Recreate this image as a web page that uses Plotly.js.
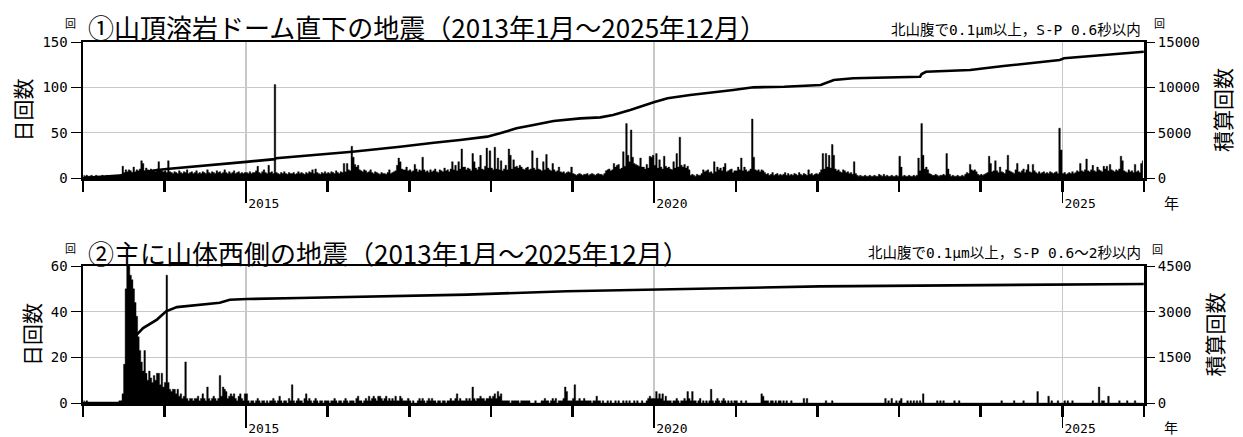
<!DOCTYPE html>
<html>
<head>
<meta charset="utf-8">
<script src="https://cdn.plot.ly/plotly-3.0.1.min.js"></script>
<style>
  html, body { margin: 0; padding: 0; background: #fff; }
  #chart { width: 1243px; height: 437px; }
</style>
</head>
<body>
<div id="chart"></div>
<script>
// ---- Panel 1: earthquakes directly beneath the summit lava dome ----
// Weekly peak of the daily count (52 weeks per year)
const dome2013 = [3,2,3,2,2,3,2,2,3,2,2,2,3,2,2,3,2,2,3,2,3,3,2,3,4,13,6,9,7,9,8,6,12,7,9,8,10,19,16,8,11,9,7,10,8,9,7,10,18,9,8,7];
const dome2014 = [8,6,19,7,6,5,7,6,5,8,6,5,7,6,9,5,6,7,5,6,8,5,6,5,7,6,5,9,6,5,7,6,5,8,6,7,5,6,9,6,5,7,5,6,8,5,6,7,5,6,5,6];
const dome2015 = [6,5,7,5,6,6,8,13,6,5,7,9,6,5,14,6,7,5,103,6,5,4,6,5,7,5,4,6,5,5,6,4,5,7,5,6,5,4,6,5,7,6,9,5,10,6,5,4,6,5,7,5];
const dome2016 = [6,5,7,6,5,8,6,5,7,6,16,7,16,9,8,35,23,15,12,14,9,8,7,9,8,6,7,9,6,5,7,6,5,4,6,5,5,4,6,9,5,6,7,8,14,22,18,10,9,9,12,8];
const dome2017 = [9,7,8,15,10,7,9,8,23,9,7,8,6,9,7,8,10,7,6,9,8,7,11,8,9,7,10,18,9,14,8,18,10,32,12,12,9,11,10,8,27,18,11,9,12,25,10,9,13,33,11,30];
const dome2018 = [11,9,34,10,22,9,19,8,10,14,9,32,25,10,20,12,13,11,14,12,10,9,11,12,9,10,30,11,9,22,10,9,8,18,9,26,11,9,8,16,9,7,8,12,7,6,7,5,6,7,6,12];
const dome2019 = [5,4,3,4,5,4,3,4,4,5,3,4,5,4,3,4,5,4,4,3,5,8,9,10,8,9,16,12,14,15,10,11,29,13,60,25,18,53,23,16,15,14,13,22,12,12,10,15,11,24,23,25];
const dome2020 = [14,27,11,20,12,10,24,13,11,12,10,9,18,11,27,12,45,14,12,15,11,13,9,3,4,3,2,4,3,3,5,9,7,8,9,6,7,5,18,7,12,9,11,8,12,16,7,8,9,10,6,8];
const dome2021 = [8,12,9,22,8,12,9,7,8,10,65,23,9,8,9,7,9,8,6,4,5,3,4,6,3,4,5,3,4,3,4,6,3,5,3,4,3,5,4,3,6,4,3,5,4,3,9,4,5,3,4,5];
const dome2022 = [4,6,9,27,10,27,12,25,11,37,25,10,8,9,7,6,9,8,6,7,5,6,4,18,5,3,2,3,2,2,3,2,2,3,2,2,3,2,2,4,3,2,4,2,3,2,2,3,2,2,3,2];
const dome2023 = [24,12,2,3,2,2,3,2,2,3,2,3,22,8,60,25,10,12,9,5,4,3,3,4,3,2,3,3,4,3,27,10,4,2,3,2,2,3,2,2,3,2,4,6,5,15,9,8,9,7,4,3];
const dome2024 = [4,3,4,5,6,24,16,7,8,19,8,6,12,7,6,5,9,25,8,7,6,5,9,16,7,6,8,10,6,9,15,7,6,15,8,6,5,7,5,6,7,5,6,5,7,6,5,6,7,5,55,31];
const dome2025 = [5,6,4,5,6,5,7,5,6,8,7,16,8,7,9,21,8,7,9,14,8,7,12,9,8,7,13,10,13,8,15,9,8,7,9,8,10,24,19,8,7,6,9,7,8,6,15,7,8,6,16,19];

// Cumulative count (right axis)
const domeCumDates = ['2013-01-01','2013-07-01','2013-12-01','2014-01-10','2015-01-01','2015-05-10','2015-05-15','2016-01-25','2016-04-20','2016-11-20','2017-02-15','2017-04-20','2017-08-15','2017-12-15','2018-02-10','2018-04-25','2018-07-10','2018-10-08','2019-02-05','2019-05-05','2019-07-01','2019-09-16','2019-12-30','2020-03-01','2020-06-10','2020-08-25','2020-12-20','2021-03-20','2021-08-05','2022-01-15','2022-03-15','2022-06-10','2023-04-05','2023-04-12','2023-05-01','2023-11-15','2024-04-12','2024-12-20','2025-01-08','2025-12-31'];
const domeCumValues = [0,300,880,990,1780,2080,2190,2700,2900,3450,3750,3890,4190,4560,4930,5480,5850,6290,6580,6690,6950,7500,8350,8790,9150,9340,9710,10000,10070,10260,10810,11000,11170,11470,11720,11910,12350,13010,13200,13930];

// ---- Panel 2: earthquakes mainly on the west side of the volcano ----
const west2013 = [1,0,1,0,0,0,0,0,0,0,0,0,0,0,0,0,0,0,0,0,0,0,0,1,1,4,17,50,60,60,56,54,50,44,38,29,23,18,14,23,13,10,14,11,9,12,10,13,13,8,13,7];
const west2014 = [9,56,9,6,5,6,6,4,6,3,4,2,3,18,2,1,2,2,1,2,2,3,1,2,4,2,1,7,2,1,2,3,2,1,2,12,3,7,6,5,2,3,4,3,4,2,1,3,4,2,1,4];
const west2015 = [4,1,0,1,1,0,1,2,1,0,1,1,0,1,0,1,1,2,1,0,1,3,1,0,1,1,0,2,1,8,1,0,1,2,1,1,0,2,4,1,2,1,0,1,2,1,0,1,1,0,1,1];
const west2016 = [1,0,1,1,2,1,0,1,1,0,1,2,1,0,1,1,1,0,2,3,1,1,0,1,2,1,3,1,2,3,2,1,3,3,2,1,2,3,1,2,1,2,1,3,1,1,3,2,1,1,1,2];
const west2017 = [1,0,1,0,0,1,2,1,2,1,0,1,2,1,2,1,1,0,1,1,0,1,1,0,1,1,2,1,1,2,4,1,2,1,1,1,2,1,2,1,7,2,1,2,2,3,2,2,1,2,2,3];
const west2018 = [2,3,4,2,5,3,4,1,1,1,1,1,0,1,1,1,1,1,0,1,1,1,1,1,1,0,0,0,1,0,0,0,1,1,2,1,1,0,1,2,1,2,0,1,1,1,2,7,5,1,1,1];
const west2019 = [2,8,1,1,2,1,1,2,1,1,1,1,0,1,1,3,1,1,0,1,0,0,1,0,1,0,0,1,0,1,0,0,1,0,1,0,1,0,0,1,0,1,0,0,1,0,0,1,2,3,2,2];
const west2020 = [2,5,2,4,2,4,1,3,1,1,1,0,1,1,2,1,0,1,1,2,1,5,2,1,5,1,1,0,1,2,0,1,0,1,0,1,6,1,0,1,2,1,0,1,2,1,0,1,0,1,0,1];
const west2021 = [1,0,0,1,0,0,1,0,0,0,0,0,0,0,0,0,4,3,1,1,1,0,1,1,0,1,0,1,1,0,1,0,1,0,0,1,0,0,0,0,0,0,0,2,0,2,0,0,0,0,0,0];
const west2022 = [0,0,0,0,0,1,0,0,0,1,0,0,0,0,0,0,0,0,0,0,0,0,0,0,0,0,0,0,0,0,0,0,0,0,0,0,0,0,0,0,0,0,0,2,0,1,0,2,0,0,1,0];
const west2023 = [1,2,0,0,0,1,0,1,0,1,0,1,0,1,0,4,0,0,0,0,0,0,0,0,1,0,1,0,1,0,0,0,0,0,0,1,0,0,1,0,0,0,0,0,0,0,0,0,0,0,0,0];
const west2024 = [0,0,0,0,0,0,0,0,0,0,0,0,0,1,0,0,0,0,0,0,0,1,0,0,0,0,0,1,0,0,0,0,0,0,0,0,5,0,0,0,0,0,0,3,0,1,0,0,0,1,0,0];
const west2025 = [0,1,0,1,0,0,1,0,0,0,0,0,0,0,0,0,0,0,0,1,0,0,0,7,0,1,1,0,0,3,0,0,0,0,0,0,1,0,0,0,0,1,0,0,0,0,1,0,0,0,0,0];

const westCumDates = ['2013-01-01','2013-06-20','2013-07-01','2013-07-15','2013-07-30','2013-08-14','2013-08-29','2013-09-27','2013-11-28','2014-01-08','2014-02-25','2014-06-10','2014-09-05','2014-10-20','2015-01-05','2015-08-25','2016-11-20','2017-09-15','2018-12-05','2020-01-01','2022-01-10','2025-12-31'];
const westCumValues = [0,10,60,400,1000,1700,2240,2460,2740,3010,3150,3230,3290,3390,3415,3450,3505,3560,3670,3720,3830,3910];

// Axis ticks
const years = [2013,2014,2015,2016,2017,2018,2019,2020,2021,2022,2023,2024,2025];
const labelDates = ['2015-01-01','2020-01-01','2025-01-01'];
const labelTexts = ['2015','2020','2025'];
const domeDailyTicks = [0,50,100,150];
const domeCumTicks = [0,5000,10000,15000];
const westDailyTicks = [0,20,40,60];
const westCumTicks = [0,1500,3000,4500];

// Text
const domeTitle = '①山頂溶岩ドーム直下の地震（2013年1月～2025年12月）';
const domeNote = '北山腹で0.1μm以上，S-P 0.6秒以内';
const westTitle = '②主に山体西側の地震（2013年1月～2025年12月）';
const westNote = '北山腹で0.1μm以上，S-P 0.6～2秒以内';

// ---- build weekly series (one value per week, centred mid-week) ----
function weekDates(year) {
  const out = [];
  for (let i = 0; i < 52; i++) {
    out.push(new Date(Date.UTC(year, 0, 4 + 7 * i)).toISOString().slice(0, 10));
  }
  return out;
}
function flatten(yearArrays) {
  const xs = [], ys = [];
  yearArrays.forEach((vals, k) => {
    const d = weekDates(years[k]);
    vals.forEach((v, i) => { xs.push(d[i]); ys.push(v); });
  });
  return { xs, ys };
}
const dome = flatten([dome2013,dome2014,dome2015,dome2016,dome2017,dome2018,dome2019,dome2020,dome2021,dome2022,dome2023,dome2024,dome2025]);
const west = flatten([west2013,west2014,west2015,west2016,west2017,west2018,west2019,west2020,west2021,west2022,west2023,west2024,west2025]);

const GRID = '#c8c8c8';
const NUM_FONT = 'DejaVu Sans Mono, Noto Sans CJK JP';
const JP_FONT = 'Noto Sans CJK JP';

// counts are drawn as a filled step outline so neighbouring weeks join into one solid mass
function countTrace(s, xa, ya) {
  return { type: 'scatter', mode: 'lines', x: s.xs, y: s.ys, xaxis: xa, yaxis: ya,
    line: { shape: 'hvh', color: '#000', width: 0.4 }, fill: 'tozeroy', fillcolor: '#000',
    hoverinfo: 'x+y' };
}
function cumTrace(xs, ys, xa, ya) {
  return { type: 'scatter', mode: 'lines', x: xs, y: ys, xaxis: xa, yaxis: ya,
    line: { color: '#000', width: 2.6 } };
}
const traces = [
  countTrace(dome, 'x', 'y'),
  cumTrace(domeCumDates, domeCumValues, 'x', 'y2'),
  countTrace(west, 'x2', 'y3'),
  cumTrace(westCumDates, westCumValues, 'x2', 'y4')
];

function timeAxis(anchor) {
  return {
    type: 'date', anchor: anchor, domain: [0, 1],
    range: ['2013-01-01', '2026-01-01'],
    tickmode: 'array', tickvals: labelDates, ticktext: labelTexts,
    ticks: 'outside', ticklen: 22, tickwidth: 1.5, tickcolor: '#000',
    ticklabelposition: 'outside right', ticklabelstandoff: 12,
    tickfont: { family: NUM_FONT, size: 13, color: '#000' },
    minor: { dtick: 'M12', tick0: '2013-01-01', ticks: 'outside', ticklen: 11, tickwidth: 2.5, tickcolor: '#000', showgrid: false },
    showgrid: true, gridcolor: GRID, gridwidth: 1.5,
    showline: true, linewidth: 2.5, linecolor: '#000', mirror: true,
    zeroline: false, fixedrange: true
  };
}
function countAxis(anchor, domain, range, vals, title) {
  return {
    anchor: anchor, domain: domain, range: range,
    tickmode: 'array', tickvals: vals, ticktext: vals.map(String),
    ticks: 'outside', ticklen: 10, tickwidth: 1, tickcolor: '#000',
    tickfont: { family: NUM_FONT, size: 14, color: '#000' },
    showgrid: true, gridcolor: GRID, gridwidth: 1.5,
    showline: true, linewidth: 2.5, linecolor: '#000', mirror: true,
    zeroline: false, fixedrange: true,
    title: { text: title, font: { family: JP_FONT, size: 21, color: '#000' }, standoff: 5 }
  };
}
function cumAxis(overlay, range, vals, title) {
  return {
    overlaying: overlay, side: 'right', range: range,
    tickmode: 'array', tickvals: vals, ticktext: vals.map(String),
    ticks: 'outside', ticklen: 10, tickwidth: 1, tickcolor: '#000',
    tickfont: { family: NUM_FONT, size: 14, color: '#000' },
    showgrid: false, zeroline: false, showline: false, fixedrange: true,
    title: { text: title, font: { family: JP_FONT, size: 21, color: '#000' }, standoff: 17 }
  };
}

const W = 1243, H = 437, ML = 83, MR = 99;
const PW = W - ML - MR;
const px = v => (v - ML) / PW;      // horizontal pixel -> paper fraction
const py = v => 1 - v / H;          // vertical pixel -> paper fraction

function note(text, xPix, yPix, size, anchor, family) {
  return { text: text, xref: 'paper', yref: 'paper', x: px(xPix), y: py(yPix),
    xanchor: anchor, yanchor: 'middle', showarrow: false,
    font: { family: family, size: size, color: '#000' } };
}

const layout = {
  width: W, height: H,
  margin: { l: ML, r: MR, t: 0, b: 0 },
  paper_bgcolor: '#fff', plot_bgcolor: '#fff',
  showlegend: false,
  font: { family: JP_FONT, color: '#000' },
  xaxis: timeAxis('y'),
  yaxis: countAxis('x', [py(178), py(42)], [0, 150], domeDailyTicks, '日回数'),
  yaxis2: cumAxis('y', [0, 15000], domeCumTicks, '積算回数'),
  xaxis2: timeAxis('y3'),
  yaxis3: countAxis('x2', [py(403), py(266)], [0, 60], westDailyTicks, '日回数'),
  yaxis4: cumAxis('y3', [0, 4500], westCumTicks, '積算回数'),
  annotations: [
    note(domeTitle, 86, 26, 26, 'left', JP_FONT),
    note('回', 70, 23, 11, 'center', JP_FONT),
    note(domeNote, 1143, 30, 14.5, 'right', NUM_FONT),
    note('回', 1159, 23, 11, 'center', JP_FONT),
    note('年', 1171, 203, 15, 'center', JP_FONT),
    note(westTitle, 86, 252, 26, 'left', JP_FONT),
    note('回', 70, 248, 11, 'center', JP_FONT),
    note(westNote, 1143, 253, 14.5, 'right', NUM_FONT),
    note('回', 1158, 249, 11, 'center', JP_FONT),
    note('年', 1171, 427, 14, 'center', JP_FONT)
  ]
};

Plotly.newPlot('chart', traces, layout, { displayModeBar: false, staticPlot: true });
</script>
</body>
</html>
